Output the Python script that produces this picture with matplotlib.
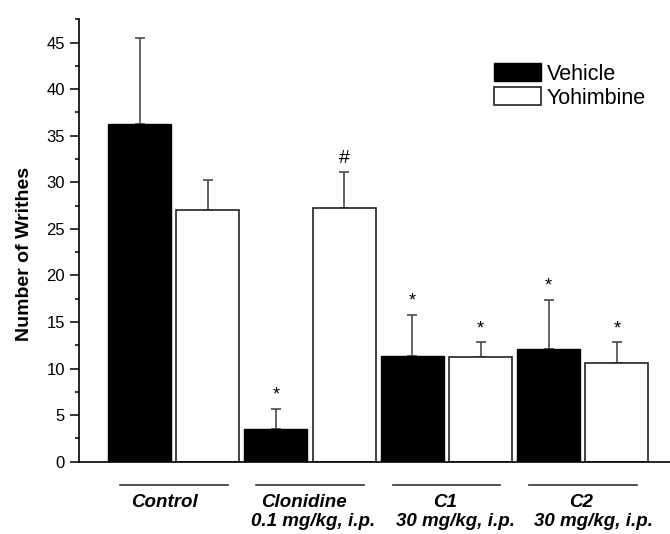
import numpy as np
import matplotlib.pyplot as plt
from matplotlib.ticker import MultipleLocator
from matplotlib.transforms import blended_transform_factory

plt.rcParams['font.family'] = ['Liberation Sans', 'DejaVu Sans']

# mean writhes and SEM per treatment group
groups = ['Control', 'Clonidine', 'C1', 'C2']
doses = ['', '0.1 mg/kg, i.p.', '30 mg/kg, i.p.', '30 mg/kg, i.p.']
vehicle = [36.3, 3.5, 11.3, 12.1]
vehicle_err = [9.2, 2.15, 4.4, 5.25]
yohimbine = [27.0, 27.2, 11.2, 10.6]
yohimbine_err = [3.2, 3.9, 1.65, 2.2]
# significance marks above the bars
vehicle_marks = ['', '*', '*', '*']
yohimbine_marks = ['', '#', '*', '*']

fig = plt.figure(figsize=(6.7, 5.34), dpi=100)
ax = fig.add_axes([79/670, 1 - 461.7/534, 591/670, 442.4/534])

x = np.arange(len(groups))
w = 0.462
off = 0.25
# error bars sit under the bars so only the upper half shows
errkw = dict(ecolor='#4a4a4a', elinewidth=1.2, capsize=3.4, capthick=1.2, zorder=0.5)

ax.bar(x - off, vehicle, w, color='black', edgecolor='black', linewidth=1.0,
       yerr=[np.zeros(4), vehicle_err], error_kw=errkw, label='Vehicle', zorder=2)
ax.bar(x + off, yohimbine, w, color='white', edgecolor='#222222', linewidth=1.2,
       yerr=[np.zeros(4), yohimbine_err], error_kw=errkw, label='Yohimbine', zorder=2)

for i in range(len(groups)):
    if vehicle_marks[i]:
        ax.text(x[i] - off, vehicle[i] + vehicle_err[i] + 0.6, vehicle_marks[i],
                ha='center', va='bottom', fontsize=13)
    if yohimbine_marks[i]:
        fs = 14 if yohimbine_marks[i] == '#' else 13
        ax.text(x[i] + off, yohimbine[i] + yohimbine_err[i] + 0.5, yohimbine_marks[i],
                ha='center', va='bottom', fontsize=fs)

ax.set_xlim(-0.694, 3.639)
ax.set_ylim(0, 47.5)
ax.set_xticks([])
ax.yaxis.set_major_locator(MultipleLocator(5))
ax.yaxis.set_minor_locator(MultipleLocator(2.5))
ax.tick_params(axis='y', which='major', length=6.5, width=1.1, pad=3.6, labelsize=12)
ax.tick_params(axis='y', which='minor', length=2.6, width=1.1)
for s in ['top', 'right']:
    ax.spines[s].set_visible(False)
for s in ['left', 'bottom']:
    ax.spines[s].set_linewidth(1.2)

ax.set_ylabel('Number of Writhes', fontsize=14, fontweight='bold')
ax.yaxis.set_label_coords(-0.078, 0.4695)

# group labels with a short rule above each
tr = blended_transform_factory(ax.transData, ax.transAxes)
name_dx = [-0.069, -0.043, -0.01, -0.017]
dose_dx = [0.0, 0.02, 0.067, 0.076]
for i in range(len(groups)):
    ax.plot([x[i] - 0.395, x[i] + 0.395], [-0.0533, -0.0533], transform=tr,
            color='#333333', lw=1.2, clip_on=False)
    ax.text(x[i] + name_dx[i], -0.0911, groups[i], transform=tr, ha='center',
            va='center', fontsize=13.5, fontweight='bold', style='italic')
    if doses[i]:
        ax.text(x[i] + dose_dx[i], -0.1363, doses[i], transform=tr, ha='center',
                va='center', fontsize=13.5, fontweight='bold', style='italic')

ax.legend(loc='upper left', bbox_to_anchor=(0.7027, 0.9005), frameon=False,
          fontsize=15.5, handlelength=2.19, handleheight=0.88, labelspacing=0.13,
          handletextpad=0.25, borderpad=0, borderaxespad=0)

fig.savefig('out.png', dpi=100)
